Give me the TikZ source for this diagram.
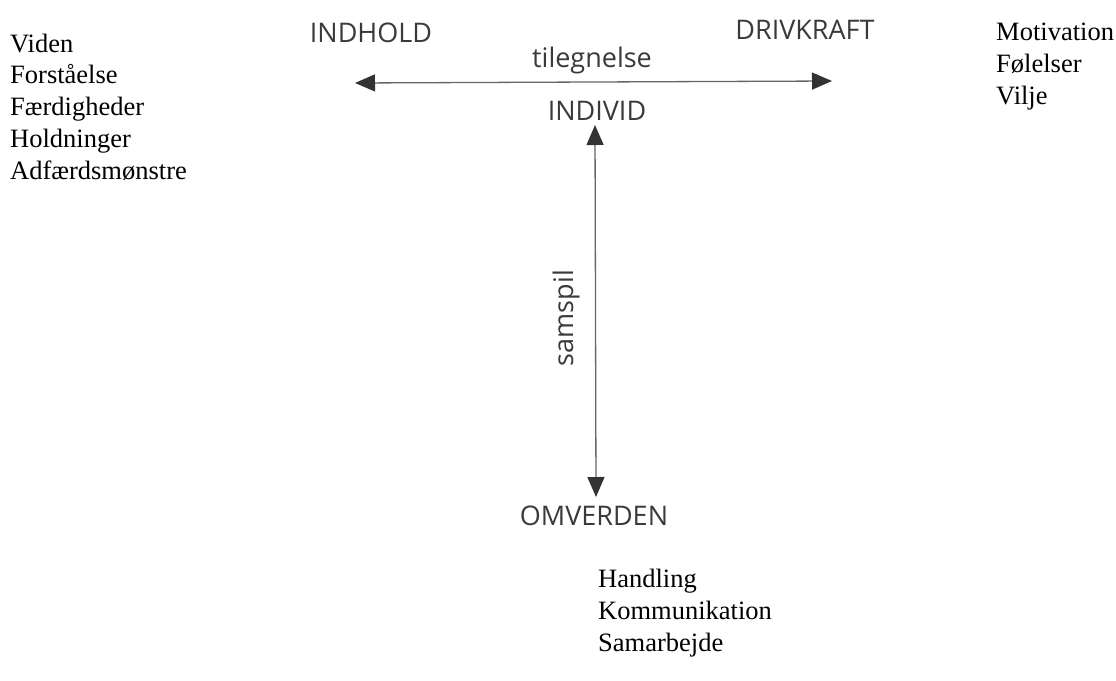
\documentclass[tikz,border=0pt]{standalone}
\usepackage{fontspec}
\setmainfont{Liberation Serif}
\newfontfamily\serifw{Liberation Serif}
\newfontfamily\labfont{Open Sans}
\usetikzlibrary{arrows.meta}
\definecolor{labgray}{HTML}{3A3A3A}
\definecolor{linegray}{HTML}{666666}
\definecolor{tipgray}{HTML}{333333}
\tikzset{
  listtext/.style={anchor=base west, inner sep=0pt, font=\serifw\fontsize{26.5}{31}\selectfont, text=black},
  axislabel/.style={anchor=base, inner sep=0pt, font=\labfont\fontsize{27}{32}\selectfont, text=labgray},
  axisarrow/.style={draw=linegray, line width=1.3pt,
    {Triangle[length=20pt,width=17pt,fill=tipgray,color=tipgray]}-{Triangle[length=20pt,width=17pt,fill=tipgray,color=tipgray]}}
}
\begin{document}
\begin{tikzpicture}[x=1pt,y=-1pt]
\useasboundingbox (0,0) rectangle (1116,680);
% axis labels
\node[axislabel] (indhold) at (371,42) {INDHOLD};
\node[axislabel] (drivkraft) at (805,39) {DRIVKRAFT};
\node[axislabel] (tilegnelse) at (592,67) {tilegnelse};
\node[axislabel] (individ) at (597,120) {INDIVID};
\node[axislabel] (omverden) at (594,525) {OMVERDEN};
\node[inner sep=0pt, font=\labfont\fontsize{27}{32}\selectfont, text=labgray, rotate=90] (samspil) at (566,318) {samspil};
% arrow ends
\coordinate (hl) at (355,83);
\coordinate (hr) at (832,81);
\coordinate (vt) at (595,125);
\coordinate (vb) at (596,497);
\draw[axisarrow] (hl) -- (hr);
\draw[axisarrow] (vt) -- (vb);
% left list
\node[listtext] (l1) at (10,52) {Viden};
\node[listtext] (l2) at (10,83.5) {Forståelse};
\node[listtext] (l3) at (10,115.5) {Færdigheder};
\node[listtext] (l4) at (10,147.5) {Holdninger};
\node[listtext] (l5) at (10,179) {Adfærdsmønstre};
% right list
\node[listtext] (r1) at (996,40) {Motivation};
\node[listtext] (r2) at (996,72) {Følelser};
\node[listtext] (r3) at (996,104) {Vilje};
% bottom list
\node[listtext] (b1) at (598,587.5) {Handling};
\node[listtext] (b2) at (598,619.5) {Kommunikation};
\node[listtext] (b3) at (598,651.5) {Samarbejde};
\end{tikzpicture}
\end{document}
